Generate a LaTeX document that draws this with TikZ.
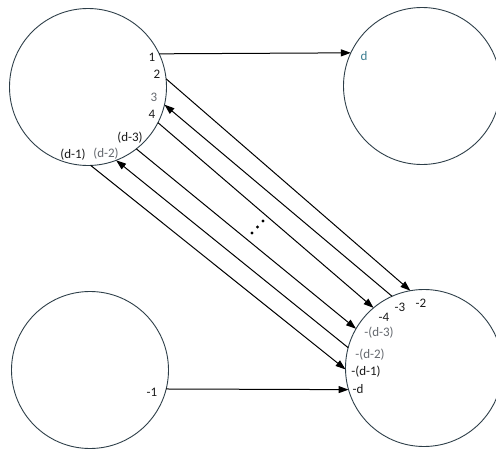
\documentclass[tikz,border=0pt]{standalone}
\usepackage{fontspec}
\setmainfont{Carlito}
\usetikzlibrary{arrows.meta}
\definecolor{ringline}{RGB}{45,62,72}
\definecolor{softtext}{RGB}{100,104,110}
\definecolor{tealtext}{RGB}{60,125,145}

\begin{document}
\begin{tikzpicture}[
  x=1pt, y=-1pt,
  font=\fontsize{13}{15}\selectfont,
  ring/.style={draw=ringline, line width=0.9pt, circle, minimum size=157pt, inner sep=0pt, outer sep=0pt},
  lbl/.style={inner sep=0pt, text=black!90},
  faint/.style={lbl, text=softtext},
  arr/.style={-{Triangle[length=10pt, width=7pt]}, line width=1pt}
]
\useasboundingbox (0,0) rectangle (496,450);

% the four rings
\node[ring] (tl) at (88,87) {};
\node[ring] (tr) at (422,86) {};
\node[ring] (bl) at (90,370) {};
\node[ring] (br) at (424,368) {};

% straight links
\draw[arr] (tl.25) -- (tr.155);
\draw[arr] (bl.-14) -- (br.196);

% crossing links
\foreach \a/\b in {6/100,-27/130,-52/150,-88/181} {
  \draw[arr] (tl.\a) -- (br.\b);
}
\foreach \a/\b in {114/-13,165/-69} {
  \draw[arr] (br.\a) -- (tl.\b);
}
\foreach \i in {0,1,2} {
  \fill (252+5.5*\i,233-6*\i) circle (1.7pt);
}

% port numbers
\node[lbl] (p1) at (152,57) {1};
\node[lbl] (p2) at (157,74) {2};
\node[faint] (p3) at (154,97) {3};
\node[lbl] (p4) at (152,114) {4};
\node[lbl] (pd3) at (130,138) {(d-3)};
\node[faint] (pd2) at (106,154) {(d-2)};
\node[lbl] (pd1) at (73,155) {(d-1)};
\node[lbl, text=tealtext] (pd) at (364,56) {d};
\node[lbl] (m1) at (152,392) {-1};
\node[lbl] (m2) at (421,303) {-2};
\node[lbl] (m3) at (400,307) {-3};
\node[lbl] (m4) at (384,317) {-4};
\node[faint] (md3) at (379,333) {-(d-3)};
\node[faint] (md2) at (370,355) {-(d-2)};
\node[lbl] (md1) at (366,372) {-(d-1)};
\node[lbl] (md) at (358,389) {-d};
\end{tikzpicture}
\end{document}
